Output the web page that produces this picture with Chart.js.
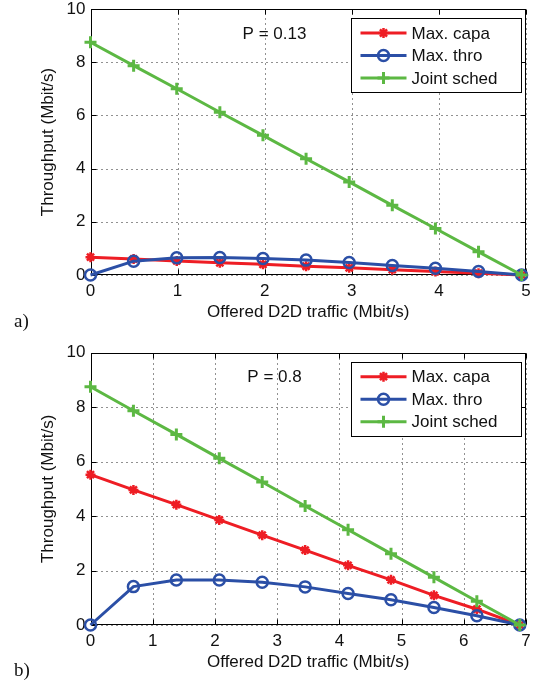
<!DOCTYPE html>
<html>
<head>
<meta charset="utf-8">
<script src="https://cdn.jsdelivr.net/npm/chart.js"></script>
<style>
body { margin: 0; background: #fff; }
#wrap { position: relative; width: 535px; height: 685px; }
.panel { position: absolute; left: 0; width: 535px; }
.tag { position: absolute; font-family: "Liberation Serif", serif; font-size: 19px; color: #111; line-height: 22px; }
</style>
</head>
<body>
<div id="wrap">
  <div class="panel" style="top:0;height:335px"><canvas id="chartA" width="535" height="335"></canvas></div>
  <div class="panel" style="top:340px;height:345px"><canvas id="chartB" width="535" height="345"></canvas></div>
  <div class="tag" style="left:14px;top:310px">a)</div>
  <div class="tag" style="left:14px;top:659px">b)</div>
</div>
<script>
// data
const labels = ['Max. capa', 'Max. thro', 'Joint sched']

// a) P = 0.13
const xA = [0, 0.495, 0.99, 1.485, 1.98, 2.475, 2.97, 3.465, 3.96, 4.455, 4.95]
const capaA = [0.67, 0.6, 0.53, 0.46, 0.4, 0.33, 0.27, 0.2, 0.13, 0.07, 0]
const throA = [0, 0.52, 0.65, 0.66, 0.62, 0.56, 0.47, 0.36, 0.25, 0.13, 0]
const jointA = [8.75, 7.87, 7.0, 6.12, 5.25, 4.37, 3.5, 2.62, 1.75, 0.87, 0]

// b) P = 0.8
const xB = [0, 0.69, 1.38, 2.07, 2.76, 3.45, 4.14, 4.83, 5.52, 6.21, 6.9]
const capaB = [5.52, 4.96, 4.42, 3.86, 3.3, 2.75, 2.19, 1.66, 1.09, 0.58, 0]
const throB = [0, 1.41, 1.65, 1.65, 1.57, 1.4, 1.16, 0.93, 0.64, 0.34, 0]
const jointB = [8.75, 7.87, 7.0, 6.12, 5.25, 4.37, 3.5, 2.62, 1.75, 0.87, 0]

const yTicks = [0, 2, 4, 6, 8, 10]

const FONT = '"Liberation Sans", Arial, sans-serif'
const RED = '#ee1d24', BLUE = '#2b4fa6', GREEN = '#5cb843'

const pts = (xs, ys) => xs.map((x, i) => ({ x: x, y: ys[i] }))

// dotted grid, box, inward ticks, legend and the P note (matlab look)
const matlabBox = {
    id: 'matlabBox',
    beforeDatasetsDraw(chart) {
        const { ctx, chartArea: a, scales } = chart
        const L = Math.round(a.left) + 0.5, R = Math.round(a.right) - 0.5
        const T = Math.round(a.top) + 0.5, B = Math.round(a.bottom) - 0.5
        ctx.save()
        // grid
        ctx.strokeStyle = '#222'
        ctx.lineWidth = 1
        ctx.setLineDash([1, 4])
        ctx.beginPath()
        scales.x.ticks.forEach(t => {
            const px = Math.round(scales.x.getPixelForValue(t.value)) + 0.5
            ctx.moveTo(px, B); ctx.lineTo(px, T)
        })
        scales.y.ticks.forEach(t => {
            const py = Math.round(scales.y.getPixelForValue(t.value)) + 0.5
            ctx.moveTo(L, py); ctx.lineTo(R, py)
        })
        ctx.stroke()
        ctx.setLineDash([])
        // frame + ticks
        ctx.strokeStyle = '#000'
        ctx.strokeRect(L, T, R - L, B - T)
        ctx.beginPath()
        scales.x.ticks.forEach(t => {
            const px = Math.round(scales.x.getPixelForValue(t.value)) + 0.5
            ctx.moveTo(px, B); ctx.lineTo(px, B - 5)
            ctx.moveTo(px, T); ctx.lineTo(px, T + 5)
        })
        scales.y.ticks.forEach(t => {
            const py = Math.round(scales.y.getPixelForValue(t.value)) + 0.5
            ctx.moveTo(L, py); ctx.lineTo(L + 5, py)
            ctx.moveTo(R, py); ctx.lineTo(R - 5, py)
        })
        ctx.stroke()
        ctx.restore()
    },
    afterDraw(chart, args, opts) {
        const { ctx, chartArea: a } = chart
        ctx.save()
        const bx = Math.round(a.right - 175) + 0.5, by = Math.round(a.top + 9) + 0.5
        const bw = 170, bh = 74
        ctx.fillStyle = '#fff'
        ctx.fillRect(bx, by, bw, bh)
        ctx.strokeStyle = '#000'
        ctx.lineWidth = 1
        ctx.strokeRect(bx, by, bw, bh)
        ctx.font = '17px ' + FONT
        ctx.textBaseline = 'middle'
        chart.data.datasets.forEach((ds, i) => {
            const y = a.top + 24 + i * 22.5
            ctx.strokeStyle = ds.borderColor
            ctx.lineWidth = ds.borderWidth
            ctx.beginPath()
            ctx.moveTo(bx + 9, y); ctx.lineTo(bx + 55, y)
            ctx.stroke()
            ctx.fillStyle = ds.pointBackgroundColor
            ctx.lineWidth = ds.pointBorderWidth
            Chart.helpers.drawPoint(ctx, {
                pointStyle: ds.pointStyle, radius: ds.pointRadius,
                borderWidth: ds.pointBorderWidth, rotation: 0
            }, bx + 32, y)
            ctx.fillStyle = '#111'
            ctx.textAlign = 'left'
            ctx.fillText(ds.label, bx + 60, y + 1)
        })
        ctx.textAlign = 'center'
        ctx.fillStyle = '#111'
        ctx.fillText(opts.note, a.left + 184, a.top + 25)
        ctx.restore()
    }
}

function makeChart(id, xs, capa, thro, joint, xMax, note, padTop) {
    return new Chart(document.getElementById(id), {
        type: 'line',
        data: {
            datasets: [
                {
                    label: labels[0],
                    data: pts(xs, capa),
                    borderColor: RED,
                    borderWidth: 3,
                    pointStyle: 'star',
                    pointRadius: 5,
                    pointBorderWidth: 2.5,
                    pointBackgroundColor: RED,
                    pointBorderColor: RED,
                    clip: false,
                    order: 3
                },
                {
                    label: labels[1],
                    data: pts(xs, thro),
                    borderColor: BLUE,
                    borderWidth: 3,
                    pointStyle: 'circle',
                    pointRadius: 5.5,
                    pointBorderWidth: 2.5,
                    pointBackgroundColor: 'rgba(0,0,0,0)',
                    pointBorderColor: BLUE,
                    clip: false,
                    order: 2
                },
                {
                    label: labels[2],
                    data: pts(xs, joint),
                    borderColor: GREEN,
                    borderWidth: 3,
                    pointStyle: 'cross',
                    pointRadius: 6,
                    pointBorderWidth: 3,
                    pointBackgroundColor: GREEN,
                    pointBorderColor: GREEN,
                    clip: false,
                    order: 1
                }
            ]
        },
        options: {
            responsive: false,
            animation: false,
            devicePixelRatio: 1,
            layout: { padding: { top: padTop, right: 7.5, left: 0, bottom: 0 } },
            plugins: {
                legend: { display: false },
                tooltip: { enabled: false },
                matlabBox: { note: note }
            },
            scales: {
                x: {
                    type: 'linear',
                    min: 0,
                    max: xMax,
                    ticks: { stepSize: 1, padding: 6, color: '#111', maxRotation: 0, font: { size: 17, family: FONT } },
                    grid: { display: false, drawTicks: false },
                    border: { display: false },
                    title: {
                        display: true, text: 'Offered D2D traffic (Mbit/s)', color: '#111',
                        font: { size: 17, family: FONT }, padding: { top: 0, bottom: 12 }
                    },
                    afterFit(s) { s.height = 60; s.paddingLeft = 0; s.paddingRight = 0 }
                },
                y: {
                    type: 'linear',
                    min: yTicks[0],
                    max: yTicks[yTicks.length - 1],
                    afterBuildTicks(s) { s.ticks = yTicks.map(v => ({ value: v })) },
                    ticks: { padding: 5, color: '#111', font: { size: 17, family: FONT } },
                    grid: { display: false, drawTicks: false },
                    border: { display: false },
                    title: {
                        display: true, text: 'Throughput (Mbit/s)', color: '#111',
                        font: { size: 17, family: FONT }, padding: { top: 38, bottom: 0 }
                    },
                    afterFit(s) { s.width = 90.5; s.paddingTop = 0; s.paddingBottom = 0 }
                }
            }
        },
        plugins: [matlabBox]
    })
}

makeChart('chartA', xA, capaA, throA, jointA, 5, 'P = 0.13', 5)
makeChart('chartB', xB, capaB, throB, jointB, 7, 'P = 0.8', 12.7)
</script>
</body>
</html>
